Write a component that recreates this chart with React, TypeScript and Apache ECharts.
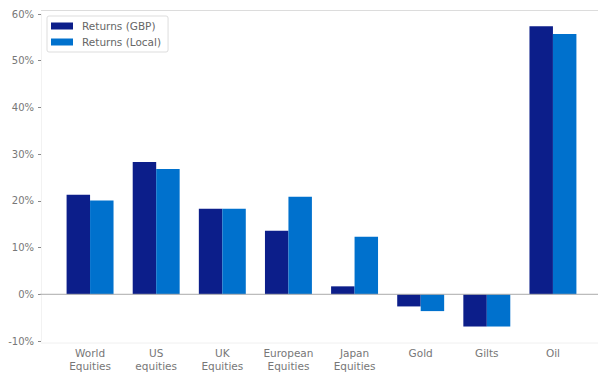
import React, { useEffect, useRef } from "react";
import * as echarts from "echarts";

const categories = [
  "World\nEquities",
  "US\nequities",
  "UK\nEquities",
  "European\nEquities",
  "Japan\nEquities",
  "Gold",
  "Gilts",
  "Oil",
];
const returnsGBP = [21.3, 28.3, 18.3, 13.6, 1.7, -2.6, -6.9, 57.4];
const returnsLocal = [20.1, 26.8, 18.3, 20.9, 12.3, -3.6, -6.9, 55.7];
const seriesNames = ["Returns (GBP)", "Returns (Local)"];

const FONT = "DejaVu Sans";

export default function App() {
  const ref = useRef<HTMLDivElement>(null);
  useEffect(() => {
    if (!ref.current) return;
    const chart = echarts.init(ref.current, null, { renderer: "svg" });
    chart.setOption({
      animation: false,
      textStyle: { fontFamily: FONT },
      grid: { left: 57, right: 12, top: 14, bottom: 31 },
      legend: {
        orient: "vertical",
        left: 47,
        top: 16,
        padding: [4, 7, 4, 4],
        itemGap: 4,
        itemWidth: 22,
        itemHeight: 7,
        borderColor: "#dddddd",
        borderWidth: 1,
        borderRadius: 2,
        backgroundColor: "#ffffff",
        icon: "rect",
        textStyle: { fontFamily: FONT, fontSize: 10.5, color: "#666666", lineHeight: 12, padding: [0, 0, 0, 4] },
        data: seriesNames,
      },
      xAxis: {
        type: "category",
        data: categories,
        axisLine: { show: false },
        axisTick: { show: false },
        axisLabel: {
          fontFamily: FONT,
          fontSize: 10.5,
          color: "#777777",
          lineHeight: 12.5,
          margin: 6,
        },
      },
      yAxis: {
        type: "value",
        min: -10,
        max: 60,
        interval: 10,
        offset: 16,
        axisLine: { show: true, lineStyle: { color: "#f2f2f2", width: 1 } },
        axisTick: { show: true, length: 3, lineStyle: { color: "#888888" } },
        splitLine: { show: false },
        axisLabel: {
          fontFamily: FONT,
          fontSize: 10,
          color: "#777777",
          margin: 7,
          formatter: (v: number) => `${v}%`,
        },
      },
      series: [
        {
          name: seriesNames[0],
          type: "bar",
          data: returnsGBP,
          barGap: "0%",
          barCategoryGap: "29%",
          itemStyle: { color: "#0c1e8a" },
        },
        {
          name: seriesNames[1],
          type: "bar",
          data: returnsLocal,
          barGap: "0%",
          barCategoryGap: "29%",
          itemStyle: { color: "#0071cd" },
        },
      ],
    });
    const y0 = chart.convertToPixel({ yAxisIndex: 0 }, 0) as number;
    const W = 598;
    chart.setOption({
      graphic: [
        {
          type: "line",
          shape: { x1: 41, y1: 10.5, x2: W, y2: 10.5 },
          style: { stroke: "#dcdcdc", lineWidth: 1 },
          z: 0,
        },
        {
          type: "line",
          shape: { x1: 41, y1: 343, x2: W, y2: 343 },
          style: { stroke: "#f0f0f0", lineWidth: 1 },
          z: 0,
        },
        {
          type: "line",
          shape: { x1: 40, y1: y0, x2: W, y2: y0 },
          style: { stroke: "#aaaaaa", lineWidth: 1 },
          z: 100,
        },
      ],
    });
    return () => chart.dispose();
  }, []);
  return (
    <div
      ref={ref}
      style={{ position: "absolute", left: 0, top: 0, width: 598, height: 372 }}
    />
  );
}
